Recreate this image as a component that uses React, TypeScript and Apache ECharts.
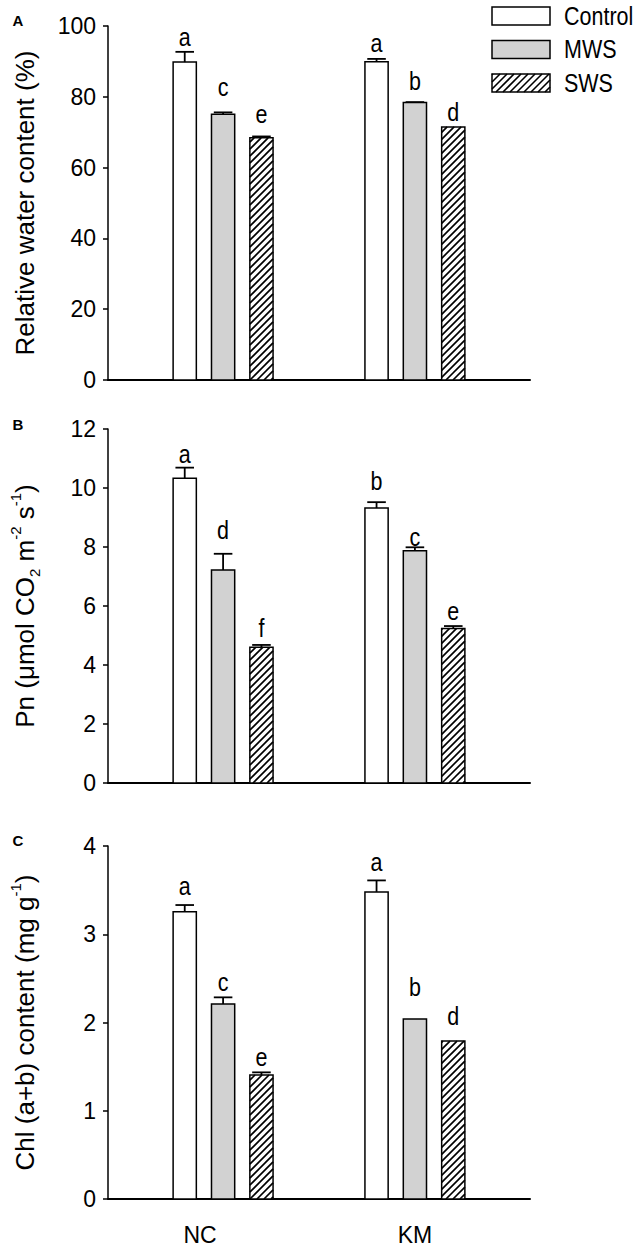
import React, { useEffect, useRef } from "react";
import * as echarts from "echarts";

// ---------- data ----------
const groups = ["NC", "KM"];
const treatments = ["Control", "MWS", "SWS"];
const groupLabelAt = [-0.12, 1];

// Panel A: relative water content (%)  [Control, MWS, SWS] x [NC, KM]
const rwcMeans = [
  [89.8, 89.9],
  [75.1, 78.4],
  [68.4, 71.5],
];
const rwcErrs = [
  [2.9, 0.8],
  [0.5, 0.1],
  [0.4, 0.0],
];
const rwcLetters = [
  ["a", "a"],
  ["c", "b"],
  ["e", "d"],
];
const rwcLetterAt = [
  [94.1, 92.5],
  [80.0, 81.7],
  [72.5, 73.0],
];

// Panel B: Pn
const pnMeans = [
  [10.33, 9.32],
  [7.22, 7.87],
  [4.6, 5.24],
];
const pnErrs = [
  [0.36, 0.2],
  [0.55, 0.12],
  [0.08, 0.08],
];
const pnLetters = [
  ["a", "b"],
  ["d", "c"],
  ["f", "e"],
];
const pnLetterAt = [
  [10.83, 9.91],
  [8.24, 8.01],
  [4.94, 5.5],
];

// Panel C: Chl (a+b)
const chlMeans = [
  [3.256, 3.48],
  [2.21, 2.04],
  [1.405, 1.79],
];
const chlErrs = [
  [0.075, 0.13],
  [0.075, 0.0],
  [0.03, 0.0],
];
const chlLetters = [
  ["a", "a"],
  ["c", "b"],
  ["e", "d"],
];
const chlLetterAt = [
  [3.44, 3.71],
  [2.35, 2.29],
  [1.5, 1.97],
];

// ---------- styling ----------
const FONT = '"Liberation Sans", Arial, Helvetica, sans-serif';
const FILLS = ["#ffffff", "#d2d2d2", "#ffffff"];
const BAR_OFFSETS = [-0.2, 0, 0.2];
const BAR_W = 0.121;
const HATCH_STEP = 7;
const CONDENSE = 0.86;

function hatchSegments(x0: number, y0: number, x1: number, y1: number, step: number) {
  const segs: any[] = [];
  const cStart = Math.ceil((x0 + y0) / step) * step;
  for (let c = cStart; c <= x1 + y1; c += step) {
    const xs = Math.max(x0, c - y1);
    const xe = Math.min(x1, c - y0);
    if (xe - xs > 0.3) {
      segs.push({ x1: xs, y1: c - xs, x2: xe, y2: c - xe });
    }
  }
  return segs;
}

function makeRenderItem(t: number, letters: string[]) {
  return (params: any, api: any) => {
    const x = api.value(0);
    const v = api.value(1);
    const e = api.value(2);
    const ly = api.value(3);
    const bw = api.size([BAR_W, 0])[0];
    const [cx, top] = api.coord([x, v]);
    const base = api.coord([x, 0])[1];
    const left = cx - bw / 2;
    const right = cx + bw / 2;
    const children: any[] = [];
    children.push({
      type: "rect",
      shape: { x: left, y: top, width: bw, height: base - top },
      style: { fill: FILLS[t], stroke: "none" },
    });
    if (t === 2) {
      hatchSegments(left, top, right, base, HATCH_STEP).forEach((s) => {
        children.push({
          type: "line",
          shape: s,
          style: { stroke: "#000", lineWidth: 1.7 },
        });
      });
    }
    children.push({
      type: "rect",
      shape: { x: left, y: top, width: bw, height: base - top },
      style: { fill: "none", stroke: "#000", lineWidth: 1.5 },
    });
    if (e > 0) {
      const capY = api.coord([x, v + e])[1];
      const half = bw * 0.4;
      children.push({
        type: "line",
        shape: { x1: cx, y1: top, x2: cx, y2: capY },
        style: { stroke: "#000", lineWidth: 1.8 },
      });
      children.push({
        type: "line",
        shape: { x1: cx - half, y1: capY, x2: cx + half, y2: capY },
        style: { stroke: "#000", lineWidth: 1.8 },
      });
    }
    const lyPx = api.coord([x, ly])[1];
    children.push({
      type: "text",
      x: cx,
      y: lyPx - 9,
      scaleX: CONDENSE,
      style: {
        text: letters[params.dataIndex],
        align: "center",
        verticalAlign: "middle",
        fontSize: 25,
        fontFamily: FONT,
        fill: "#000",
      },
    });
    return { type: "group", children };
  };
}

const panels = [
  {
    tag: "A",
    means: rwcMeans,
    errs: rwcErrs,
    letters: rwcLetters,
    letterAt: rwcLetterAt,
    max: 100,
    interval: 20,
    name: "Relative water content (%)",
    top: 26,
    height: 354,
  },
  {
    tag: "B",
    means: pnMeans,
    errs: pnErrs,
    letters: pnLetters,
    letterAt: pnLetterAt,
    max: 12,
    interval: 2,
    name: "Pn (μmol CO{sub|2} m{sup|-2} s{sup|-1})",
    top: 429,
    height: 354,
  },
  {
    tag: "C",
    means: chlMeans,
    errs: chlErrs,
    letters: chlLetters,
    letterAt: chlLetterAt,
    max: 4,
    interval: 1,
    name: "Chl (a+b) content (mg g{sup|-1})",
    top: 846,
    height: 353,
  },
];

function buildOption() {
  const grid = panels.map((p) => ({ left: 103, right: 112, top: p.top, height: p.height }));
  const xAxis = panels.map((p, i) => ({
    type: "value",
    gridIndex: i,
    min: -0.6,
    max: 1.6,
    axisLine: { show: true, onZero: false, lineStyle: { color: "#000", width: 2 } },
    axisTick: { show: false },
    splitLine: { show: false },
    axisLabel:
      i === 2
        ? {
            show: true,
            customValues: groupLabelAt,
            formatter: (val: number) => {
              let best = 0;
              groupLabelAt.forEach((g, k) => {
                if (Math.abs(g - val) < Math.abs(groupLabelAt[best] - val)) best = k;
              });
              return groups[best];
            },
            fontSize: 23,
            color: "#000",
            fontFamily: FONT,
            margin: 24,
          }
        : { show: false },
  }));
  const yAxis = panels.map((p, i) => ({
    type: "value",
    gridIndex: i,
    min: 0,
    max: p.max,
    interval: p.interval,
    axisLine: { show: true, onZero: false, lineStyle: { color: "#000", width: 1.5 } },
    axisTick: { show: true, inside: false, length: 5, lineStyle: { color: "#000", width: 1.5 } },
    axisLabel: { fontSize: 23, color: "#000", fontFamily: FONT, margin: 12 },
    splitLine: { show: false },
    name: p.name,
    nameLocation: "middle",
    nameGap: 66,
    nameTextStyle: {
      fontSize: 26,
      color: "#000",
      fontFamily: FONT,
      lineHeight: 34,
      rich: {
        sub: { fontSize: 15, fontFamily: FONT, color: "#000", verticalAlign: "bottom", lineHeight: 34 },
        sup: { fontSize: 15, fontFamily: FONT, color: "#000", verticalAlign: "top", lineHeight: 34 },
      },
    },
  }));
  const series: any[] = [];
  panels.forEach((p, i) => {
    treatments.forEach((tr, t) => {
      series.push({
        type: "custom",
        name: tr,
        xAxisIndex: i,
        yAxisIndex: i,
        clip: false,
        encode: { x: 0, y: 1 },
        data: groups.map((g, k) => [k + BAR_OFFSETS[t], p.means[t][k], p.errs[t][k], p.letterAt[t][k]]),
        renderItem: makeRenderItem(t, p.letters[t]),
      });
    });
  });

  const graphic: any[] = [];
  // panel tags
  const tagY = [20, 424, 840];
  panels.forEach((p, i) => {
    graphic.push({
      type: "text",
      x: 18,
      y: tagY[i],
      style: {
        text: p.tag,
        fontSize: 15,
        fontWeight: "bold",
        fontFamily: FONT,
        fill: "#000",
        align: "center",
        verticalAlign: "middle",
      },
    });
  });
  // legend
  treatments.forEach((tr, t) => {
    const lx = 492;
    const ly = 7 + t * 33.5;
    const w = 58;
    const h = 18;
    graphic.push({
      type: "rect",
      shape: { x: lx, y: ly, width: w, height: h },
      style: { fill: FILLS[t], stroke: "none" },
    });
    if (t === 2) {
      hatchSegments(lx, ly, lx + w, ly + h, HATCH_STEP).forEach((s) => {
        graphic.push({ type: "line", shape: s, style: { stroke: "#000", lineWidth: 1.6 } });
      });
    }
    graphic.push({
      type: "rect",
      shape: { x: lx, y: ly, width: w, height: h },
      style: { fill: "none", stroke: "#000", lineWidth: 1.5 },
    });
    graphic.push({
      type: "text",
      x: 564,
      y: ly + h / 2,
      scaleX: CONDENSE,
      style: {
        text: tr,
        fontSize: 25,
        fontFamily: FONT,
        fill: "#000",
        align: "left",
        verticalAlign: "middle",
      },
    });
  });

  return {
    animation: false,
    backgroundColor: "#ffffff",
    textStyle: { fontFamily: FONT },
    grid,
    xAxis,
    yAxis,
    series,
    graphic,
  };
}

export default function App() {
  const ref = useRef<HTMLDivElement>(null);
  useEffect(() => {
    document.body.style.margin = "0";
    if (!ref.current) return;
    const chart = echarts.init(ref.current, null, { renderer: "svg" });
    chart.setOption(buildOption() as any);
    return () => {
      chart.dispose();
    };
  }, []);
  return (
    <div
      ref={ref}
      style={{ position: "absolute", left: 0, top: 0, width: 642, height: 1253, background: "#fff" }}
    />
  );
}
